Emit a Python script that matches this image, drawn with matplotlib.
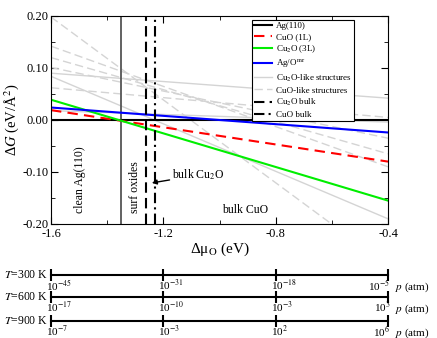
import numpy as np
import matplotlib
matplotlib.use("Agg")
import matplotlib.pyplot as plt
from matplotlib.ticker import MultipleLocator

plt.rcParams['font.family'] = ['Liberation Serif', 'DejaVu Serif']
plt.rcParams['mathtext.fontset'] = 'stix'
plt.rcParams['axes.unicode_minus'] = False

# =========================
# DATA
# =========================
mu_ends = [-1.6, -0.4]          # Δμ_O range (eV)

ag110 = [0.0, 0.0]
cuo_1l = [0.019, -0.080]
cu2o_3l = [0.039, -0.155]
ag_o_mr = [0.024, -0.024]

# grey families, values at mu = -1.6 and -0.4
cu2o_like = [[0.090, 0.042], [0.084, -0.190], [0.018, -0.004]]
cuo_like = [[0.198, -0.280], [0.142, -0.090], [0.101, -0.035],
            [0.120, -0.065], [0.062, 0.005]]

mu_clean = -1.352   # clean Ag(110) / surface oxides border
mu_cu2o = -1.262    # Cu2O bulk
mu_cuo = -1.231     # CuO bulk

# pressure scales
temps = [300, 600, 900]
mu_ticks = [-1.6, -1.2, -0.8, -0.4]
p_exp = [[-45, -31, -18, -5],
         [-17, -10, -3, 3],
         [-7, -3, 2, 6]]

# =========================
# PLOT
# =========================
fig = plt.figure(figsize=(4.37, 3.38), dpi=100)
ax = fig.add_axes([51/437, 114/338, 337/437, 208/338])

for i, v in enumerate(cu2o_like):
    ax.plot(mu_ends, v, color='#d4d4d4', lw=1.0,
            label='Cu$_2$O-like structures' if i == 0 else None)
for i, v in enumerate(cuo_like):
    ax.plot(mu_ends, v, color='#d4d4d4', lw=1.0, dashes=(6, 3),
            label='CuO-like structures' if i == 0 else None)

ax.axvline(mu_clean, color='#555555', lw=1.3)

ax.plot(mu_ends, ag110, color='black', lw=1.5, label='Ag(110)')
ax.plot(mu_ends, cuo_1l, color='red', lw=1.5, dashes=(5, 3), label='CuO (1L)')
ax.plot(mu_ends, cu2o_3l, color='#00ee00', lw=1.5, label='Cu$_2$O (3L)')
ax.plot(mu_ends, ag_o_mr, color='blue', lw=1.5, label='Ag/O$^{\\rm mr}$')

ax.axvline(mu_cu2o, color='black', lw=1.5, dashes=(5, 2.5), label='Cu$_2$O bulk')
ax.axvline(mu_cuo, color='black', lw=1.5, dashes=(5, 2, 1, 2), label='CuO bulk')

ax.set_xlim(-1.6, -0.4)
ax.set_ylim(-0.2, 0.2)
ax.xaxis.set_major_locator(MultipleLocator(0.4))
ax.xaxis.set_minor_locator(MultipleLocator(0.2))
ax.yaxis.set_major_locator(MultipleLocator(0.1))
ax.yaxis.set_minor_locator(MultipleLocator(0.05))
ax.xaxis.set_major_formatter(plt.FormatStrFormatter('%.1f'))
ax.yaxis.set_major_formatter(plt.FormatStrFormatter('%.2f'))
ax.tick_params(which='both', direction='in', top=True, right=True, labelsize=9)
ax.tick_params(which='major', length=5)
ax.tick_params(which='minor', length=3)
ax.tick_params(axis='x', pad=3)
ax.tick_params(axis='y', pad=2)

ax.set_xlabel('Δμ$_{\\rm O}$ (eV)', fontsize=11, labelpad=0)
ax.set_ylabel('Δ$G$ (eV/Å$^2$)', fontsize=10.5, labelpad=1)

ax.text(-1.497, -0.115, 'clean Ag(110)', rotation=90, ha='center', va='center', fontsize=8.5)
ax.text(-1.300, -0.129, 'surf oxides', rotation=90, ha='center', va='center', fontsize=8.5)
ax.annotate('bulk Cu$_2$O', xy=(-1.241, -0.121), xytext=(-1.168, -0.106),
            fontsize=8.5, va='center',
            arrowprops=dict(arrowstyle='-|>', color='black', lw=1, mutation_scale=7,
                            shrinkA=0, shrinkB=0))
ax.text(-0.99, -0.173, 'bulk CuO', fontsize=8.5, va='center')

h, l = ax.get_legend_handles_labels()
order = ['Ag(110)', 'CuO (1L)', 'Cu$_2$O (3L)', 'Ag/O$^{\\rm mr}$',
         'Cu$_2$O-like structures', 'CuO-like structures', 'Cu$_2$O bulk', 'CuO bulk']
hl = dict(zip(l, h))
leg = ax.legend([hl[k] for k in order], order, loc='upper left',
                bbox_to_anchor=(0.597, 0.983), fontsize=6.5, frameon=True,
                fancybox=False, edgecolor='black', framealpha=1,
                handlelength=1.9, handletextpad=0.5, labelspacing=0.28,
                borderpad=0.25, borderaxespad=0)
leg.get_frame().set_linewidth(0.8)

# pressure scales below
ax2 = fig.add_axes([51/437, 0, 337/437, 76/338])
ax2.set_xlim(-1.6, -0.4)
ax2.set_ylim(0, 76)
ax2.axis('off')
rows = [63, 41, 17]
for T, ex, y in zip(temps, p_exp, rows):
    ax2.plot(mu_ticks, [y]*len(mu_ticks), color='black', lw=1.5,
             marker='|', markersize=8, markeredgewidth=1.5, clip_on=False)
    for j, (m, e) in enumerate(zip(mu_ticks, ex)):
        if j == len(mu_ticks) - 1:
            ax2.text(m + 0.008, y - 3, '10$^{%d}$' % e, ha='right', va='top',
                     fontsize=8, clip_on=False)
        else:
            ax2.text(m - 0.018, y - 3, '10$^{%d}$' % e, ha='left', va='top',
                     fontsize=8, clip_on=False)
    ax2.text(-1.612, y, '$T$=%d K' % T, ha='right', va='center', fontsize=8.5)
    ax2.text(-0.376, y - 5, '$p$ (atm)', ha='left', va='top', fontsize=8)

fig.savefig('out.png', dpi=100)
